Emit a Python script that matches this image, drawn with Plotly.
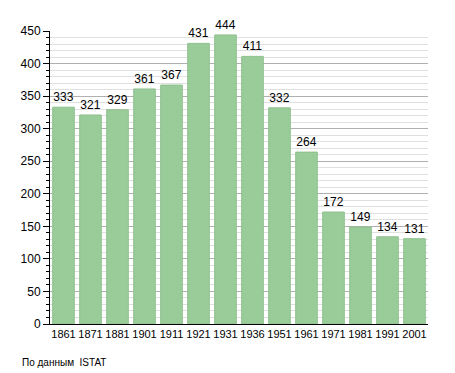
import plotly.graph_objects as go

years = ["1861", "1871", "1881", "1901", "1911", "1921", "1931", "1936", "1951", "1961", "1971", "1981", "1991", "2001"]
population = [333, 321, 329, 361, 367, 431, 444, 411, 332, 264, 172, 149, 134, 131]

# The page body has an 8px default margin; compensate so the chart lands where the reference is.
OFF = 8
W, H = 455 - OFF, 373 - OFF
L, R, T = 50 - OFF, 27, 31 - OFF
plot_h = 293
B = H - T - plot_h
plot_w = W - L - R

fig = go.Figure()
fig.add_trace(go.Bar(
    x=years, y=population,
    text=[str(v) for v in population],
    textposition="outside",
    textfont=dict(color="black", size=12, family="Liberation Sans, Arial"),
    marker=dict(color="#99cc99", line=dict(color="#8fc08f", width=1)),
    cliponaxis=False,
))
fig.update_layout(
    width=W, height=H,
    margin=dict(l=L, r=R, t=T, b=B),
    paper_bgcolor="white", plot_bgcolor="white",
    bargap=0.2,
    showlegend=False,
    font=dict(family="Liberation Sans, Arial", size=12, color="black"),
    xaxis=dict(type="category", showline=True, linecolor="black", linewidth=1,
               ticks="", tickangle=0, tickfont=dict(size=11), showgrid=False),
    yaxis=dict(range=[0, 450], dtick=50, tick0=0, showline=True, linecolor="black", linewidth=1,
               ticks="outside", ticklen=6, tickcolor="black",
               showgrid=True, gridcolor="#b0b0b0", gridwidth=1, zeroline=False,
               tickfont=dict(size=12),
               minor=dict(dtick=10, showgrid=True, gridcolor="#e0e0e0", ticks="outside",
                          ticklen=3, tickcolor="black")),
    annotations=[dict(text="По данным  ISTAT",
                      xref="paper", yref="paper",
                      x=(20 - 50) / plot_w, y=(324 - 362) / plot_h,
                      xanchor="left", yanchor="middle",
                      showarrow=False, font=dict(size=10))],
)
fig.write_html("out.html")
